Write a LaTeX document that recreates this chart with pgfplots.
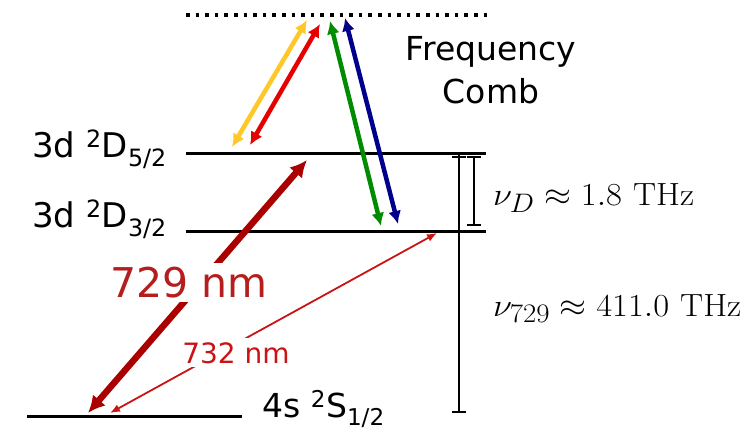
\documentclass[border=0pt]{standalone}
\usepackage{pgfplots}
\pgfplotsset{compat=1.18}
\usepackage[no-math]{fontspec}
\setmainfont{DejaVu Sans}
\usetikzlibrary{arrows.meta}
\definecolor{cy}{RGB}{255,200,40}
\definecolor{cr}{RGB}{230,0,0}
\definecolor{cg}{RGB}{0,140,0}
\definecolor{cb}{RGB}{0,0,140}
\definecolor{cdr}{RGB}{170,0,0}
\definecolor{ctx}{RGB}{180,30,30}
\definecolor{cthin}{RGB}{200,20,20}
\begin{document}
\begin{tikzpicture}
\begin{axis}[x=1pt,y=1pt,xmin=0,xmax=754,ymin=0,ymax=432,y dir=reverse,
  hide axis, clip=false, scale only axis]
\path (axis cs:0,0) rectangle (axis cs:754,432);
% levels
\addplot[black, line width=3pt] coordinates {(186,153) (486,153)};
\addplot[black, line width=3pt] coordinates {(186,231) (486,231)};
\addplot[black, line width=3pt] coordinates {(27,416) (242,416)};
\addplot[black, line width=3.5pt, dash pattern=on 3.5pt off 6.1pt] coordinates {(186,15) (488,15)};
% bars
\addplot[black, line width=1.5pt] coordinates {(459,155) (459,412)};
\addplot[black, line width=1.5pt] coordinates {(452,412) (466,412)};
\addplot[black, line width=1.5pt] coordinates {(452,157) (466,157)};
\addplot[black, line width=1.5pt] coordinates {(474,157) (474,225)};
\addplot[black, line width=1.5pt] coordinates {(467,157) (481,157)};
\addplot[black, line width=1.5pt] coordinates {(467,225) (481,225)};
% comb arrows
\addplot[cy, line width=4.5pt, {Latex[length=13pt,width=13pt]}-{Latex[length=13pt,width=13pt]}] coordinates {(232,147) (307,20)};
\addplot[cr, line width=4.5pt, {Latex[length=13pt,width=13pt]}-{Latex[length=13pt,width=13pt]}] coordinates {(250,145) (320,24)};
\addplot[cg, line width=4.5pt, {Latex[length=13pt,width=13pt]}-{Latex[length=13pt,width=13pt]}] coordinates {(381,226) (330,21)};
\addplot[cb, line width=4.5pt, {Latex[length=13pt,width=13pt]}-{Latex[length=13pt,width=13pt]}] coordinates {(398,224) (345,18)};
% 729 and 732
\addplot[cdr, line width=6.5pt, {Latex[length=17pt,width=17pt]}-{Latex[length=17pt,width=17pt]}] coordinates {(88,413) (307,160)};
\addplot[cthin, line width=1.8pt, {Latex[length=10pt,width=8pt]}-{Latex[length=10pt,width=8pt]}] coordinates {(110,413) (437,233)};
% labels
\node[ctx, fill=white, inner sep=4pt, anchor=base, font=\fontsize{41}{46}\selectfont] at (axis cs:189,297) {729 nm};
\node[cthin, fill=white, inner sep=4pt, anchor=base, font=\fontsize{28}{32}\selectfont] at (axis cs:236,363) {732 nm};
\node[anchor=base, font=\fontsize{33}{38}\selectfont] at (axis cs:491,60) {Frequency};
\node[anchor=base, font=\fontsize{33}{38}\selectfont] at (axis cs:491,103) {Comb};
\node[anchor=base west, inner sep=0pt, font=\fontsize{34}{38}\selectfont] at (axis cs:32,157) {3d \textsuperscript{2}D\textsubscript{5/2}};
\node[anchor=base west, inner sep=0pt, font=\fontsize{34}{38}\selectfont] at (axis cs:32,227) {3d \textsuperscript{2}D\textsubscript{3/2}};
\node[anchor=base west, inner sep=0pt, font=\fontsize{33}{37}\selectfont] at (axis cs:262,417) {4s \textsuperscript{2}S\textsubscript{1/2}};
\node[anchor=base west, inner sep=0pt, font=\fontsize{24.88}{30}\selectfont] at (axis cs:493,205) {\scalebox{1.39}[1.29]{$\nu_D \approx 1.8\ \mathrm{THz}$}};
\node[anchor=base west, inner sep=0pt, font=\fontsize{24.88}{30}\selectfont] at (axis cs:493,316) {\scalebox{1.39}[1.29]{$\nu_{729} \approx 411.0\ \mathrm{THz}$}};
\end{axis}
\end{tikzpicture}
\end{document}
